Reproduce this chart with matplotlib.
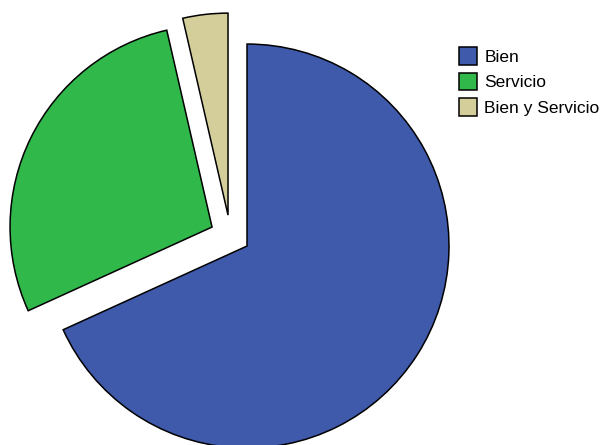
import matplotlib
matplotlib.use("Agg")
import matplotlib.pyplot as plt
from matplotlib.patches import Rectangle

labels = ["Bien", "Servicio", "Bien y Servicio"]
shares = [68.2, 28.2, 3.6]
colors = ["#3f59ab", "#30b84b", "#d3ce9a"]

# detached slices: centre shift of each wedge, in pie radii
offsets = [(0.0, 0.0), (-0.173, 0.094), (-0.094, 0.153)]

plt.rcParams["font.family"] = ["Liberation Sans", "DejaVu Sans"]

W, H = 610, 445
fig = plt.figure(figsize=(W / 100, H / 100), dpi=100)
ax = fig.add_axes([0, 0, 1, 1])
wedges, _ = ax.pie(shares, colors=colors, startangle=90, counterclock=False,
                   radius=1.0,
                   wedgeprops=dict(edgecolor="black", linewidth=1.1))
for w, (dx, dy) in zip(wedges, offsets):
    w.set_center((dx, dy))

ax.set_xlim(-1.2228, 1.797)
ax.set_ylim(-0.985, 1.218)
ax.set_aspect("equal")
ax.axis("off")

# key on the right, laid out in pixel units
lax = fig.add_axes([0, 0, 1, 1])
lax.set_xlim(0, W)
lax.set_ylim(H, 0)
lax.axis("off")
box, x0, y0, step = 17.5, 459, 47, 25.6
for i, (lab, w) in enumerate(zip(labels, wedges)):
    y = y0 + i * step
    lax.add_patch(Rectangle((x0, y), box, box, facecolor=w.get_facecolor(),
                            edgecolor="black", linewidth=1.1))
    lax.text(x0 + box + 8, y + box / 2, lab, ha="left", va="center_baseline",
             fontsize=12.5)

fig.savefig("out.png", dpi=100)
